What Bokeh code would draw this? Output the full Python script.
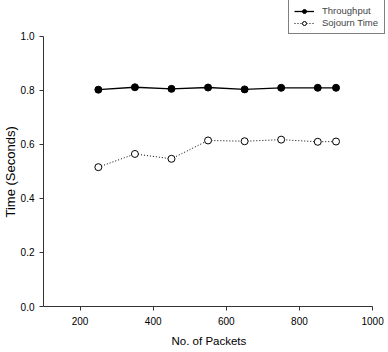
from bokeh.plotting import figure
from bokeh.models import Legend, LegendItem, FixedTicker, Range1d, Title
from bokeh.embed import file_html
from bokeh.resources import INLINE

packets = [250, 350, 450, 550, 650, 750, 850, 900]
throughput = [0.803, 0.812, 0.806, 0.811, 0.804, 0.810, 0.810, 0.810]
sojourn = [0.516, 0.565, 0.547, 0.615, 0.612, 0.618, 0.610, 0.611]
x_ticks = [200, 400, 600, 800, 1000]
y_ticks = [0.0, 0.2, 0.4, 0.6, 0.8, 1.0]

FONT = "Liberation Sans"

# The frame reaches the top and right edges so the legend box can sit in the
# top-right corner; the axes themselves are bounded to the data extents.
p = figure(width=388, height=352, output_backend="svg", toolbar_location=None,
           x_range=Range1d(100, 1043.5), y_range=Range1d(0, 1.1333),
           min_border_left=41, min_border_right=0, min_border_top=0,
           min_border_bottom=46)
p.outline_line_color = None
p.xgrid.visible = False
p.ygrid.visible = False
p.background_fill_color = "white"

for ax in (p.xaxis[0], p.yaxis[0]):
    ax.axis_line_color = "#333333"
    ax.major_tick_line_color = "#333333"
    ax.minor_tick_line_color = None
    ax.major_tick_out = 4
    ax.major_tick_in = 0
    ax.major_label_text_font = FONT
    ax.major_label_text_font_size = "10px"
    ax.major_label_text_color = "black"

p.xaxis.bounds = (100, 1000)
p.yaxis.bounds = (0, 1.0)
p.xaxis.ticker = FixedTicker(ticks=x_ticks)
p.yaxis.ticker = FixedTicker(ticks=y_ticks)
p.yaxis.major_label_overrides = {t: f"{t:.1f}" for t in y_ticks}
p.xaxis.major_label_standoff = 6
p.yaxis.major_label_standoff = 5

# axis titles as panel titles so they centre on the bounded axes
p.add_layout(Title(text="No. of Packets", align="left", offset=128,
                   text_font=FONT, text_font_size="11.5px",
                   text_font_style="normal", text_color="black",
                   standoff=11), "below")
p.add_layout(Title(text="Time (Seconds)", align="left", offset=89,
                   text_font=FONT, text_font_size="13px",
                   text_font_style="normal", text_color="black",
                   standoff=0), "left")

l1 = p.line(packets, throughput, line_color="black", line_width=1.3)
c1 = p.scatter(packets, throughput, size=7, fill_color="black", line_color="black")
l2 = p.line(packets, sojourn, line_color="black", line_width=1, line_dash="1 2")
c2 = p.scatter(packets, sojourn, size=7, fill_color="white", line_color="black",
               line_width=1)

legend = Legend(items=[LegendItem(label="Throughput", renderers=[l1, c1]),
                       LegendItem(label="Sojourn Time", renderers=[l2, c2])],
                location=(245, 272), title=" ")
legend.title_text_font_size = "8px"
legend.title_standoff = 0
legend.border_line_color = "black"
legend.border_line_width = 1
legend.background_fill_alpha = 1
legend.label_text_font = FONT
legend.label_text_font_size = "9.5px"
legend.label_standoff = 8
legend.label_width = 57
legend.glyph_width = 20
legend.glyph_height = 10
legend.label_height = 10
legend.spacing = 1
legend.padding = 5
legend.margin = 0
p.add_layout(legend, "center")

open("out.html", "w").write(file_html(p, INLINE))
